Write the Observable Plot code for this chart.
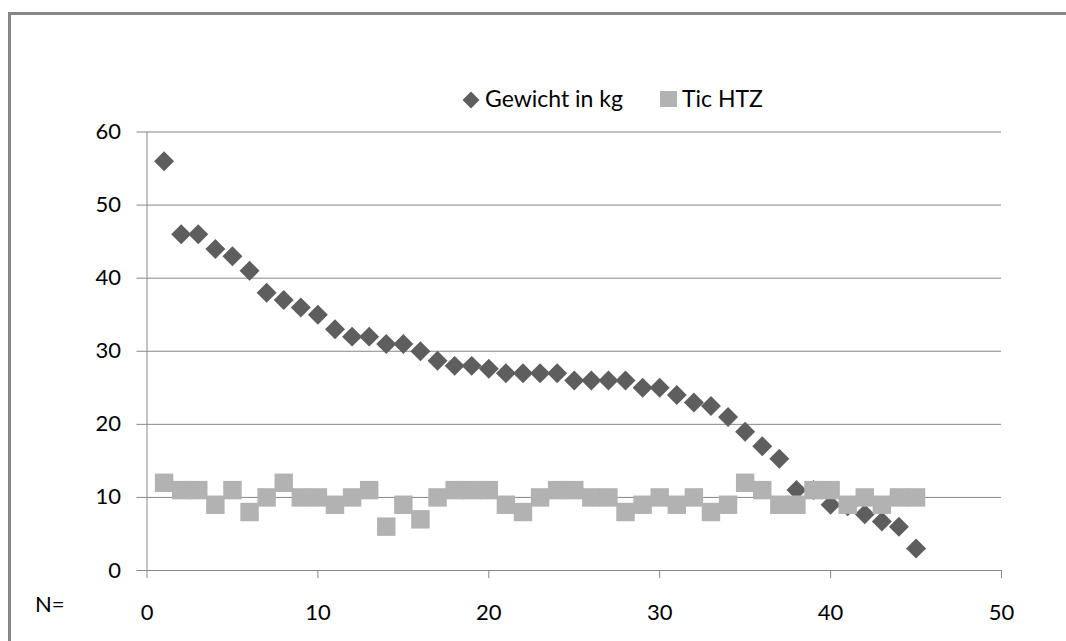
<!DOCTYPE html>
<html><head><meta charset="utf-8">
<script src="https://cdn.jsdelivr.net/npm/d3@7"></script>
<script src="https://cdn.jsdelivr.net/npm/@observablehq/plot@0.6"></script>
<style>
html,body{margin:0;padding:0;background:#fff;overflow:hidden;width:1066px;height:641px;}
#wrap{position:relative;width:1066px;height:641px;overflow:hidden;font-family:Lato,sans-serif;color:#000;}
#frame{position:absolute;left:8px;top:12px;width:1100px;height:700px;border-left:3px solid #868686;border-top:3px solid #868686;pointer-events:none;}
#chart{position:absolute;left:0;top:0;}
.leg{position:absolute;top:86px;font-size:23px;line-height:24px;white-space:nowrap;}
.sym{position:absolute;}
#nlabel{position:absolute;left:35px;top:593px;font-size:22px;line-height:22px;}
</style>
</head><body>
<div id="wrap">
  <div id="frame"></div>
  <div id="chart"></div>
  <svg class="sym" style="left:461px;top:90px" width="20" height="20"><path d="M10,1.5L18.5,10L10,18.5L1.5,10Z" fill="#5e5e5e"/></svg>
  <div class="leg" id="leg1" style="left:485px"></div>
  <div class="sym" style="left:660px;top:91px;width:17px;height:16px;background:#b2b2b2"></div>
  <div class="leg" id="leg2" style="left:682px"></div>
  <div id="nlabel">N=</div>
</div>
<script>
const seriesNames = ["Gewicht in kg", "Tic HTZ"];
const nValues = [1,2,3,4,5,6,7,8,9,10,11,12,13,14,15,16,17,18,19,20,21,22,23,24,25,26,27,28,29,30,31,32,33,34,35,36,37,38,39,40,41,42,43,44,45];
const gewicht = [56,46,46,44,43,41,38,37,36,35,33,32,32,31,31,30,28.7,28,28,27.6,27,27,27,27,26,26,26,26,25,25,24,23,22.5,21,19,17,15.3,11,11,9,8.8,7.7,6.7,6,3];
const ticHTZ = [12,11,11,9,11,8,10,12,10,10,9,10,11,6,9,7,10,11,11,11,9,8,10,11,11,10,10,8,9,10,9,10,8,9,12,11,9,9,11,11,9,10,9,10,10];
const xTicks = [0,10,20,30,40,50];
const yTicks = [0,10,20,30,40,50,60];

document.getElementById("leg1").textContent = seriesNames[0];
document.getElementById("leg2").textContent = seriesNames[1];

const gData = nValues.map((n, i) => ({n, v: gewicht[i]}));
const tData = nValues.map((n, i) => ({n, v: ticHTZ[i]}));
const axisColor = "#868686";

const chart = Plot.plot({
  width: 1066,
  height: 641,
  marginLeft: 146.5,
  marginRight: 65,
  marginTop: 131.5,
  marginBottom: 71,
  style: {fontFamily: "Lato, sans-serif", fontSize: "22px", background: "transparent", color: "#000"},
  x: {domain: [0, 50]},
  y: {domain: [0, 60]},
  marks: [
    Plot.gridY(yTicks, {stroke: axisColor, strokeOpacity: 1, strokeWidth: 1}),
    Plot.ruleX([0], {stroke: axisColor, strokeWidth: 1}),
    Plot.axisY(yTicks, {tickSize: 10, tickPadding: 16, stroke: axisColor, fill: "#000", fontSize: 22, label: null}),
    Plot.axisX(xTicks, {tickSize: 8, tickPadding: 26, stroke: axisColor, fill: "#000", fontSize: 22, label: null}),
    Plot.dot(gData, {x: "n", y: "v", symbol: "diamond2", r: 9, fill: "#5e5e5e", stroke: "none"}),
    Plot.dot(tData, {x: "n", y: "v", symbol: "square", r: 10.4, fill: "#b2b2b2", stroke: "none"})
  ]
});
document.getElementById("chart").appendChild(chart);
</script>
</body></html>
